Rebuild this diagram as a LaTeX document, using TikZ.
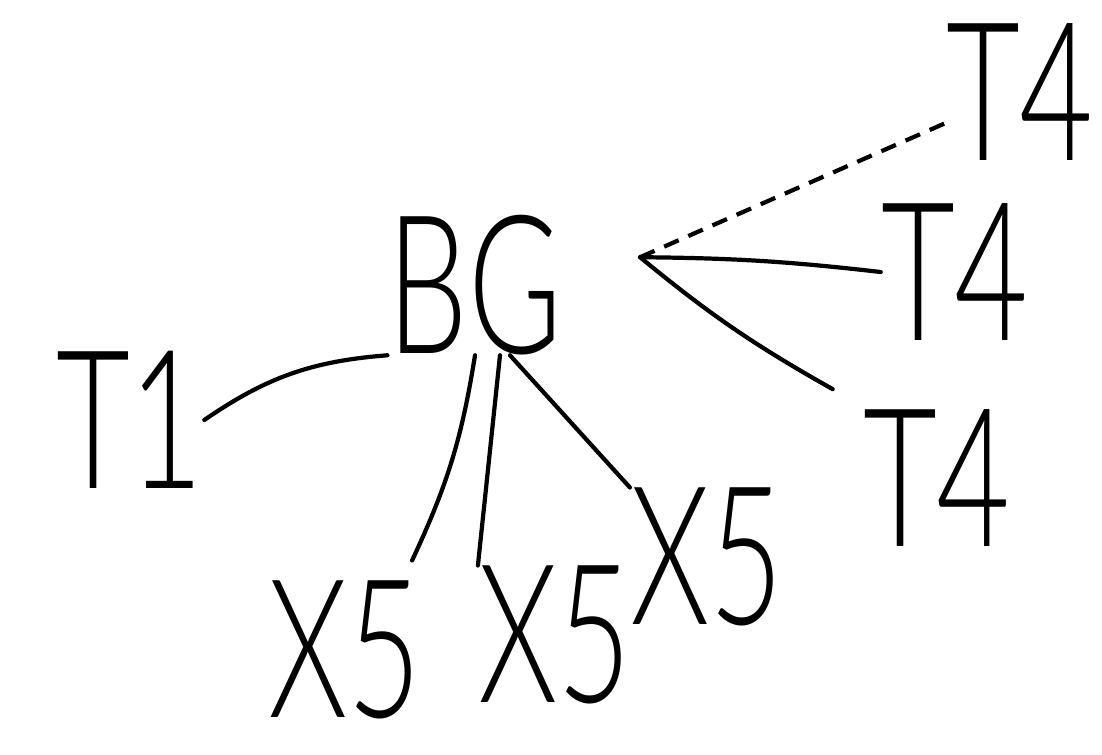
\documentclass[tikz,border=0pt]{standalone}
\usepackage{fontspec}
\IfFontExistsTF{Lato Light}
  {\newfontfamily\sketchfont{Lato Light}}
  {\IfFontExistsTF{Lato Thin}
    {\newfontfamily\sketchfont{Lato Thin}}
    {\newcommand{\sketchfont}{\sffamily}}}
\usetikzlibrary{positioning,calc}

\newcommand{\hand}[1]{\scalebox{0.66}[1]{#1}}
\tikzset{
  sketch/.style={font=\sketchfont\fontsize{110}{110}\selectfont, inner sep=0pt},
  stroke/.style={line width=2.4pt, line cap=round},
}

\begin{document}
\begin{tikzpicture}
\useasboundingbox (0,0) rectangle (22.04,-15.1);

% centre
\node[sketch] (bg) at (9.5,-5.7) {\hand{BG}};
\coordinate (hub) at ([xshift=1.55cm,yshift=-0.85cm]bg.north east);

% left
\node[sketch] (t1) at (2.6,-8.4) {\hand{T1}};

% bottom
\node[sketch] (xa) at (6.9,-13.0) {\hand{X5}};
\node[sketch] (xb) at (11.1,-12.7) {\hand{X5}};
\node[sketch] (xc) at (14.14,-11.14) {\hand{X5}};

% right
\node[sketch] (ta) at (19.1,-5.44) {\hand{T4}};
\node[sketch] (tb) at (18.74,-9.56) {\hand{T4}};
\node[sketch] (tc) at (20.4,-1.84) {\hand{T4}};

\draw[stroke] (t1.east) to[bend left=15] (bg.south west);
\draw[stroke] (bg.south) to[bend left=8] ([xshift=-0.2cm,yshift=0.4cm]xa.north east);
\draw[stroke] ([xshift=0.5cm]bg.south) -- (xb.north west);
\draw[stroke] ([xshift=0.7cm]bg.south) -- (xc.north west);
\draw[stroke] (hub) to[bend left=3] (ta.west);
\draw[stroke] (hub) to[bend right=5] ([xshift=-0.6cm,yshift=0.4cm]tb.north west);
\draw[stroke, line cap=butt, dash pattern=on 9pt off 6pt] (hub) -- ($(tc.west)!0.45!(tc.south west)$);

\end{tikzpicture}
\end{document}
